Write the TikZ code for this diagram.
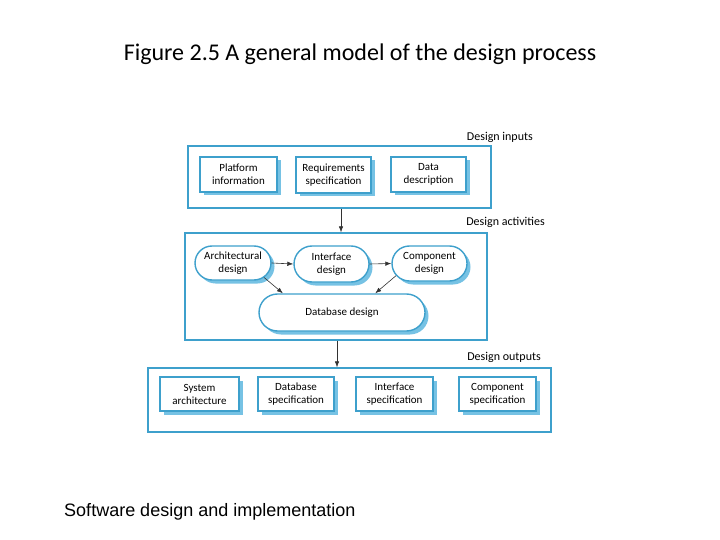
\documentclass[tikz,border=0pt]{standalone}
\usepackage{fontspec}
\setmainfont{Carlito}
\newfontfamily\piefont{Liberation Sans}
\usetikzlibrary{shapes.misc,shadows,arrows.meta}
\definecolor{borde}{RGB}{62,160,204}
\definecolor{sombra}{RGB}{118,194,228}
\definecolor{flecha}{RGB}{50,50,50}
\begin{document}
\begin{tikzpicture}[x=1pt,y=-1pt]
\tikzset{
    caja/.style={draw=borde, line width=1.4pt, fill=white, text centered, align=center, font=\fontsize{11}{13}\selectfont, inner sep=1pt, drop shadow={fill=sombra, opacity=1, shadow xshift=3.5pt, shadow yshift=-3.5pt}},
    pildora/.style={caja, rounded rectangle},
    marco/.style={draw=borde, line width=1.4pt, minimum width=#1},
    etiqueta/.style={anchor=east, inner sep=0pt, font=\fontsize{12}{14}\selectfont},
    flechita/.style={draw=flecha, line width=0.6pt, -{Latex[length=6pt,width=4.5pt]}}
}
\useasboundingbox (0,0) rectangle (720,540);
\node[font=\fontsize{24}{28}\selectfont] (titulo) at (360,54) {Figure 2.5 A general model of the design process};
% entradas
\node[marco=303pt, minimum height=62pt] (entradas) at (339.5,177) {};
\node[etiqueta] (lentradas) at (533,137) {Design inputs};
\node[caja, minimum width=77pt, minimum height=35pt] (plataforma) at (238.5,174.5) {Platform\\information};
\node[caja, minimum width=75pt, minimum height=36pt] (requisitos) at (333.5,175) {Requirements\\specification};
\node[caja, minimum width=75pt, minimum height=35pt] (datos) at (428.5,174.5) {Data\\description};
% actividades
\node[marco=302pt, minimum height=107pt] (actividades) at (336,286.5) {};
\node[etiqueta] (lactividades) at (545,222) {Design activities};
\node[pildora, minimum width=78pt, minimum height=34pt] (arq) at (233,263) {Architectural\\design};
\node[pildora, minimum width=77pt, minimum height=36pt] (interfaz) at (331.5,264) {Interface\\design};
\node[pildora, minimum width=77pt, minimum height=35pt] (comp) at (429.5,263.5) {Component\\design};
\node[pildora, minimum width=168pt, minimum height=37pt] (bd) at (342,312.5) {Database design};
% salidas
\node[marco=403pt, minimum height=64pt] (salidas) at (349.5,400) {};
\node[etiqueta] (lsalidas) at (541,357) {Design outputs};
\node[caja, minimum width=79pt, minimum height=34pt] (sistema) at (199.5,394) {System\\architecture};
\node[caja, minimum width=76pt, minimum height=34pt] (bdesp) at (296,394) {Database\\specification};
\node[caja, minimum width=77pt, minimum height=34pt] (intesp) at (394.5,394) {Interface\\specification};
\node[caja, minimum width=77pt, minimum height=34pt] (compesp) at (497.5,394) {Component\\specification};
% flechas
\draw[flechita] ([xshift=1.5pt]entradas.south) -- ([xshift=1.5pt]entradas.south |- actividades.north);
\draw[flechita] ([xshift=1pt]actividades.south) -- ([xshift=1pt]actividades.south |- salidas.north);
\draw[flechita] (arq.east) -- (interfaz.west);
\draw[flechita] (interfaz.east) -- (comp.west);
\draw[flechita] (arq.-25) -- (bd.162);
\draw[flechita] (comp.-160) -- (bd.30);
\node[anchor=west, font=\piefont\fontsize{18}{21}\selectfont] (pie) at (60.7,512) {Software design and implementation};
\end{tikzpicture}
\end{document}
